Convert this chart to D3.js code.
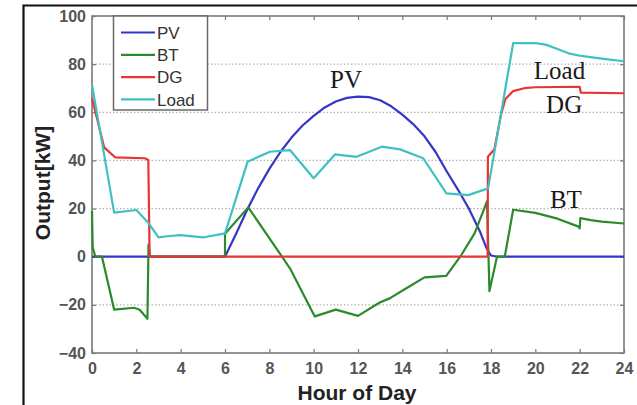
<!DOCTYPE html>
<html>
<head>
<meta charset="utf-8">
<script src="https://cdn.jsdelivr.net/npm/d3@7"></script>
<style>
  html, body { margin: 0; padding: 0; background: #fff; }
  svg { display: block; }
</style>
</head>
<body>
<svg id="chart" width="637" height="405"></svg>
<script>
// Daily power output profile of a PV / battery / diesel microgrid, [hour, kW]
const seriesNames = ["PV", "BT", "DG", "Load"];

const pvPoints = [
  [0, 0], [6.0, 0], [6.5, 9.5], [7, 19.5], [7.5, 28.5], [8, 36.5], [8.5, 43.5],
  [9, 49.5], [9.5, 54.5], [10, 58.5], [10.5, 62], [11, 64.5], [11.5, 66],
  [12, 66.5], [12.5, 66.3], [13, 65], [13.5, 62.5], [14, 59], [14.5, 55],
  [15, 50], [15.5, 43.5], [16, 35.5], [16.5, 28], [17, 20], [17.5, 10.5],
  [17.8, 3.5], [18.0, 0.5], [18.3, 0], [24, 0]
];

const btPoints = [
  [0, 19], [0.03, 4], [0.15, 0], [0.45, 0], [1.0, -22], [1.9, -21.2],
  [2.15, -22], [2.5, -25.8], [2.55, 5], [2.62, 0], [6.0, 0], [6.0, 9.5],
  [7.05, 20.5], [8.93, -4.8], [10.05, -24.8], [11.0, -22], [12.0, -24.6],
  [12.98, -19], [13.43, -17.3], [14.2, -13], [15.0, -8.6], [15.98, -8],
  [16.66, 0.7], [17.26, 9.7], [17.82, 23], [17.93, -14.3], [18.27, 0],
  [18.62, 0], [19.0, 19.5], [20.0, 18.2], [21.0, 15.8], [21.95, 12.5],
  [22.0, 11.8], [22.03, 16], [22.5, 15.2], [23.0, 14.6], [24, 13.8]
];

const dgPoints = [
  [0, 65.8], [0.55, 45.4], [1.04, 41.3], [2.39, 40.9], [2.54, 40.2],
  [2.6, 0], [17.85, 0], [17.86, 41.5], [18.15, 44.5], [18.45, 59],
  [18.65, 65.5], [19.0, 68.8], [19.5, 70], [20.0, 70.4], [22.0, 70.6],
  [22.05, 68.2], [24, 67.9]
];

const loadPoints = [
  [0, 71.5], [1.0, 18.3], [2.0, 19.4], [2.55, 14], [3.0, 8.0], [3.5, 8.6],
  [4.0, 9], [5.0, 8], [6.0, 9.7], [7.02, 39.5], [8.03, 43.6], [8.93, 44.3],
  [10.0, 32.6], [10.96, 42.5], [11.94, 41.5], [13.07, 45.7], [13.9, 44.6],
  [14.94, 40.9], [15.99, 26.3], [16.97, 25.6], [17.87, 28.4], [18.5, 62],
  [19.0, 88.7], [20.04, 88.7], [20.5, 88], [21.0, 86.3], [21.5, 84.5],
  [22.07, 83.4], [23.0, 82.3], [24, 81.2]
];

const xTicks = [0, 2, 4, 6, 8, 10, 12, 14, 16, 18, 20, 22, 24];
const yTicks = [-40, -20, 0, 20, 40, 60, 80, 100];
const gridValues = [-20, 20, 40, 60, 80];

const colors = { PV: "#3535c8", BT: "#2b8a2b", DG: "#e83434", Load: "#3fc1c1" };
const seriesData = { PV: pvPoints, BT: btPoints, DG: dgPoints, Load: loadPoints };

// Curve labels placed beside the lines
const curveLabels = [
  { text: "PV", h: 11.46, v: 70 },
  { text: "Load", h: 21.09, v: 73.8 },
  { text: "DG", h: 21.3, v: 59.7 },
  { text: "BT", h: 21.38, v: 20.2 }
];

const svg = d3.select("#chart");
const W = 637, H = 405;
const plot = { left: 92, right: 624, top: 16, bottom: 353 };

const x = d3.scaleLinear().domain([0, 24]).range([plot.left, plot.right]);
const y = d3.scaleLinear().domain([-40, 100]).range([plot.bottom, plot.top]);

// Outer frame (top and left edges)
svg.append("path")
  .attr("d", `M23.5,${H} L23.5,5.5 L${W},5.5`)
  .attr("fill", "none").attr("stroke", "#111").attr("stroke-width", 2.2);

// Dotted gridlines
svg.append("g").selectAll("line").data(gridValues).join("line")
  .attr("x1", plot.left).attr("x2", plot.right)
  .attr("y1", d => y(d)).attr("y2", d => y(d))
  .attr("stroke", "#b4b4b4").attr("stroke-width", 1.2)
  .attr("stroke-dasharray", "1.5,2");

// Axes with inward ticks
const tickFont = g => g.selectAll("text")
  .attr("font-family", "Liberation Sans, Arial, sans-serif")
  .attr("font-size", 16).attr("font-weight", "bold").attr("fill", "#555");

const xAxis = svg.append("g").attr("transform", `translate(0,${plot.bottom})`)
  .call(d3.axisBottom(x).tickValues(xTicks).tickSizeInner(-4).tickSizeOuter(0).tickPadding(9));
xAxis.call(tickFont);
xAxis.selectAll("text").attr("dy", "0.78em");

const yAxis = svg.append("g").attr("transform", `translate(${plot.left},0)`)
  .call(d3.axisLeft(y).tickValues(yTicks).tickSizeInner(-4).tickSizeOuter(0).tickPadding(6));
yAxis.call(tickFont);

svg.append("g").attr("transform", `translate(0,${plot.top})`)
  .call(d3.axisTop(x).tickValues(xTicks).tickSizeInner(-4).tickSizeOuter(0).tickFormat(""));
svg.append("g").attr("transform", `translate(${plot.right},0)`)
  .call(d3.axisRight(y).tickValues(yTicks).tickSizeInner(-4).tickSizeOuter(0).tickFormat(""));

svg.selectAll(".domain").remove();
svg.selectAll(".tick line").attr("stroke", "#777").attr("stroke-width", 1.2);

// Plot box
svg.append("rect")
  .attr("x", plot.left).attr("y", plot.top)
  .attr("width", plot.right - plot.left).attr("height", plot.bottom - plot.top)
  .attr("fill", "none").attr("stroke", "#7a7a7a").attr("stroke-width", 1.6);

// Series lines
const line = d3.line().x(d => x(d[0])).y(d => y(d[1]));
svg.append("g").selectAll("path").data(seriesNames).join("path")
  .attr("d", name => line(seriesData[name]))
  .attr("fill", "none")
  .attr("stroke", name => colors[name])
  .attr("stroke-width", 2.2)
  .attr("stroke-linejoin", "round");

// Curve labels
svg.append("g").selectAll("text").data(curveLabels).join("text")
  .attr("x", d => x(d.h)).attr("y", d => y(d.v))
  .attr("text-anchor", "middle")
  .attr("font-family", "Liberation Serif, Times New Roman, serif")
  .attr("font-size", 25).attr("fill", "#1a1a1a")
  .text(d => d.text);

// Legend
const legend = svg.append("g");
legend.append("rect")
  .attr("x", 113.5).attr("y", 16).attr("width", 94).attr("height", 94)
  .attr("fill", "#fff").attr("stroke", "#6a6a6a").attr("stroke-width", 1.5);
const rows = legend.selectAll("g").data(seriesNames).join("g")
  .attr("transform", (d, i) => `translate(0,${32.5 + i * 22.3})`);
rows.append("line")
  .attr("x1", 121).attr("x2", 155)
  .attr("stroke", d => colors[d]).attr("stroke-width", 2.2);
rows.append("text")
  .attr("x", 157).attr("dy", "0.36em")
  .attr("font-family", "Liberation Sans, Arial, sans-serif")
  .attr("font-size", 17).attr("fill", "#333")
  .text(d => d);

// Axis titles
svg.append("text")
  .attr("x", 357).attr("y", 400)
  .attr("text-anchor", "middle")
  .attr("font-family", "Liberation Sans, Arial, sans-serif")
  .attr("font-size", 21).attr("font-weight", "bold").attr("fill", "#222")
  .text("Hour of Day");

svg.append("text")
  .attr("transform", `translate(50,${183}) rotate(-90)`)
  .attr("text-anchor", "middle")
  .attr("font-family", "Liberation Sans, Arial, sans-serif")
  .attr("font-size", 21).attr("font-weight", "bold").attr("fill", "#222")
  .text("Output[kW]");
</script>
</body>
</html>
